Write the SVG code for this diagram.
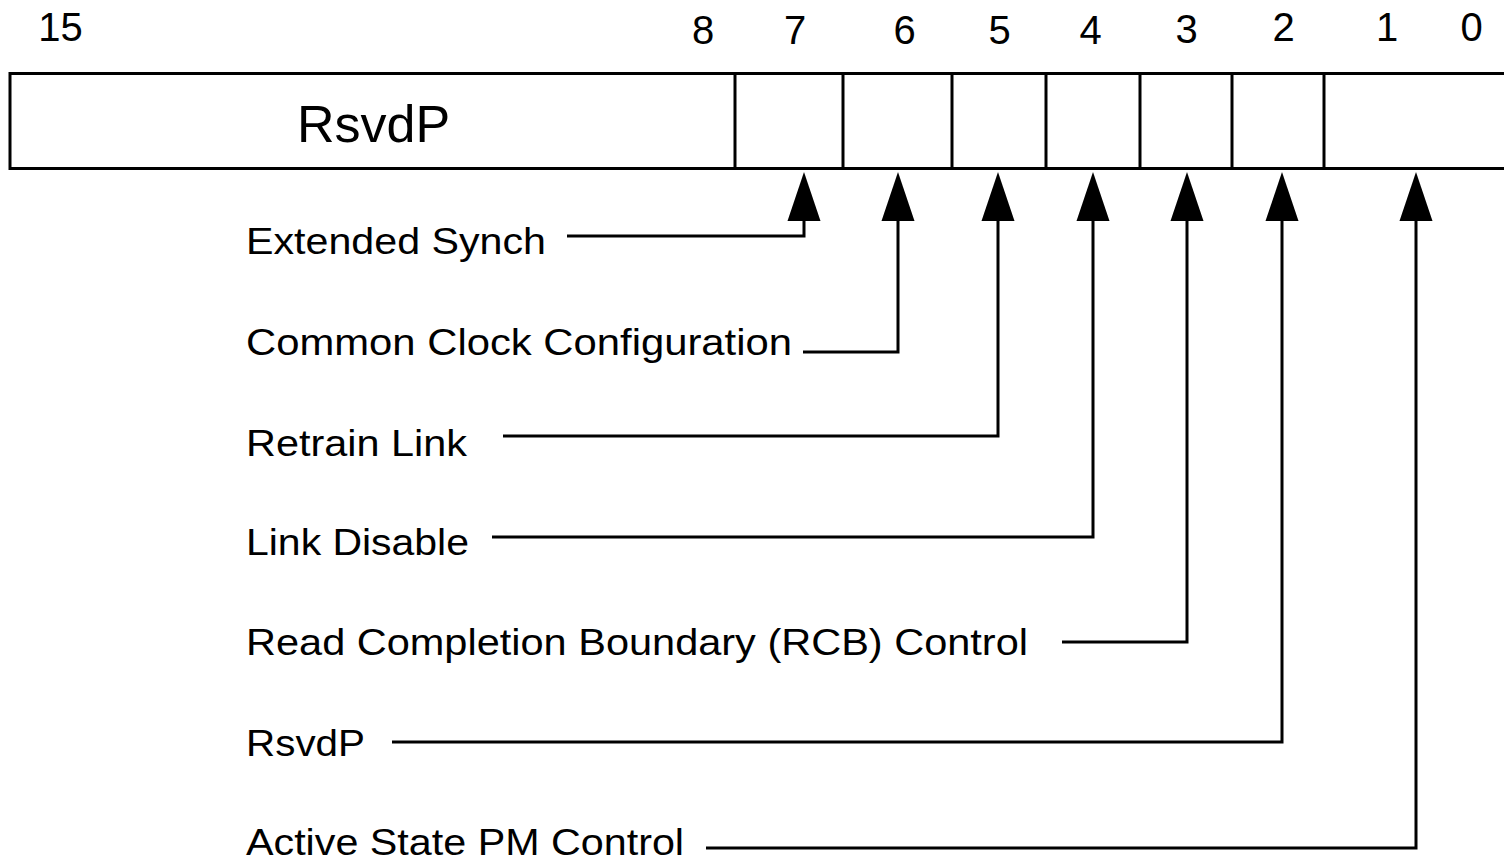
<svg xmlns="http://www.w3.org/2000/svg" xmlns:xlink="http://www.w3.org/1999/xlink" width="1504" height="862" viewBox="0 0 1504 862">
  <style>
    .num { font-family: "Liberation Sans", Arial, sans-serif; font-size: 40px; fill: #000; text-anchor: middle; }
    .title { font-family: "Liberation Sans", Arial, sans-serif; font-size: 52px; fill: #000; }
    .lbl { font-family: "Liberation Sans", Arial, sans-serif; font-size: 37px; fill: #000; }
    .box { fill: #fff; stroke: #000; stroke-width: 3; }
    .div { stroke: #000; stroke-width: 3; }
    .wire { fill: none; stroke: #000; stroke-width: 3; stroke-linejoin: miter; }
    .head { fill: #000; }
  </style>
  <defs>
    <polygon id="arrowhead" class="head" points="0,0 -16.5,49 16.5,49"/>
  </defs>
  <rect width="1504" height="862" fill="#fff"/>

  <!-- bit numbers -->
  <g id="bit-numbers">
    <text class="num" x="60.5" y="41">15</text>
    <text class="num" x="703" y="44">8</text>
    <text class="num" x="795" y="44">7</text>
    <text class="num" x="904.5" y="44">6</text>
    <text class="num" x="999.5" y="44">5</text>
    <text class="num" x="1090.5" y="44">4</text>
    <text class="num" x="1186.5" y="43">3</text>
    <text class="num" x="1283.5" y="41">2</text>
    <text class="num" x="1387" y="41">1</text>
    <text class="num" x="1471.5" y="41">0</text>
  </g>

  <!-- register box -->
  <g id="register">
    <rect class="box" x="10" y="73.5" width="1510" height="95"/>
    <text class="title" x="297" y="142">RsvdP</text>
    <line class="div" x1="735" y1="73.5" x2="735" y2="168.5"/>
    <line class="div" x1="843" y1="73.5" x2="843" y2="168.5"/>
    <line class="div" x1="952" y1="73.5" x2="952" y2="168.5"/>
    <line class="div" x1="1046" y1="73.5" x2="1046" y2="168.5"/>
    <line class="div" x1="1140" y1="73.5" x2="1140" y2="168.5"/>
    <line class="div" x1="1232" y1="73.5" x2="1232" y2="168.5"/>
    <line class="div" x1="1324" y1="73.5" x2="1324" y2="168.5"/>
  </g>

  <!-- field labels -->
  <g id="labels">
    <text class="lbl" x="246" y="254" textLength="300" lengthAdjust="spacingAndGlyphs">Extended Synch</text>
    <text class="lbl" x="246" y="355" textLength="546" lengthAdjust="spacingAndGlyphs">Common Clock Configuration</text>
    <text class="lbl" x="246" y="456" textLength="221" lengthAdjust="spacingAndGlyphs">Retrain Link</text>
    <text class="lbl" x="246" y="555" textLength="223" lengthAdjust="spacingAndGlyphs">Link Disable</text>
    <text class="lbl" x="246" y="655" textLength="782" lengthAdjust="spacingAndGlyphs">Read Completion Boundary (RCB) Control</text>
    <text class="lbl" x="246" y="756" textLength="119" lengthAdjust="spacingAndGlyphs">RsvdP</text>
    <text class="lbl" x="246" y="855" textLength="438" lengthAdjust="spacingAndGlyphs">Active State PM Control</text>
  </g>

  <!-- connectors from labels to bit fields -->
  <g id="connectors">
    <path class="wire" d="M567,236 H804 V215"/>
    <path class="wire" d="M803,352 H898 V215"/>
    <path class="wire" d="M503,436 H998 V215"/>
    <path class="wire" d="M492,537 H1093 V215"/>
    <path class="wire" d="M1062,642 H1187 V215"/>
    <path class="wire" d="M392,742 H1282 V215"/>
    <path class="wire" d="M706,848 H1416 V215"/>
    <use xlink:href="#arrowhead" x="804" y="172"/>
    <use xlink:href="#arrowhead" x="898" y="172"/>
    <use xlink:href="#arrowhead" x="998" y="172"/>
    <use xlink:href="#arrowhead" x="1093" y="172"/>
    <use xlink:href="#arrowhead" x="1187" y="172"/>
    <use xlink:href="#arrowhead" x="1282" y="172"/>
    <use xlink:href="#arrowhead" x="1416" y="172"/>
  </g>
</svg>
